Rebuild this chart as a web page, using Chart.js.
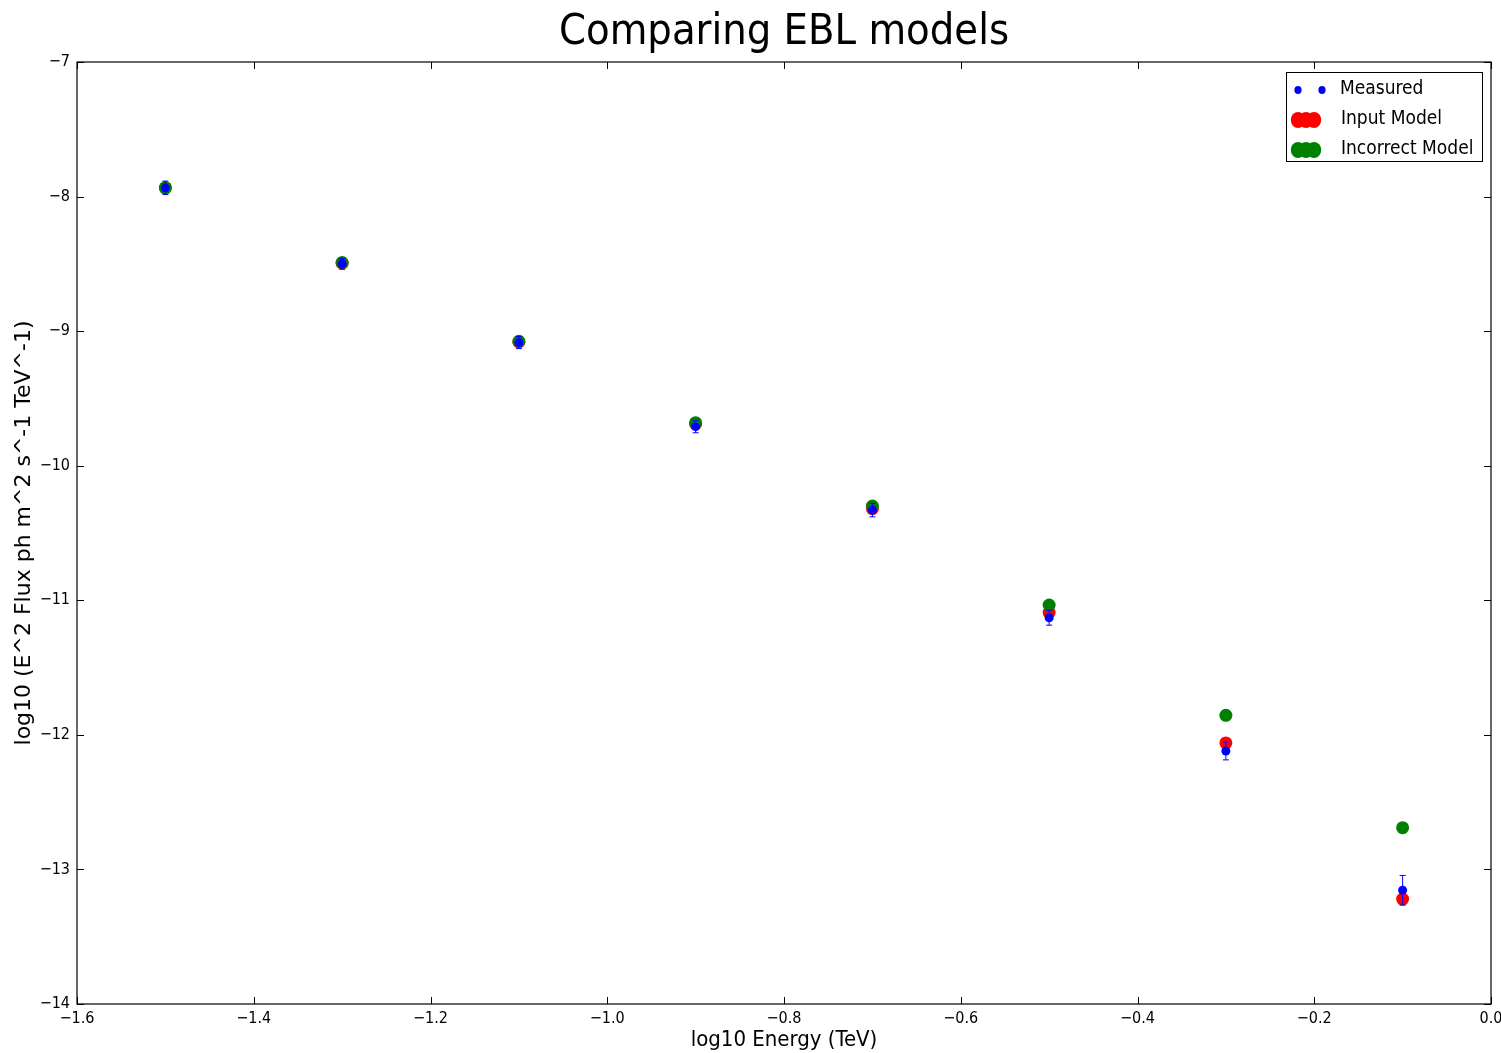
<!DOCTYPE html>
<html>
<head>
<meta charset="utf-8">
<title>Comparing EBL models</title>
<script src="https://cdn.jsdelivr.net/npm/chart.js@4.4.1/dist/chart.umd.min.js"></script>
<style>
  html, body { margin: 0; padding: 0; background: #fff; }
  #wrap { width: 1501px; height: 1053px; }
</style>
</head>
<body>
<div id="wrap"><canvas id="chart" width="1501" height="1053"></canvas></div>
<script>
// ---- data ----
const energy = [-1.5, -1.3, -1.1, -0.9, -0.7, -0.5, -0.3, -0.1];        // log10 Energy (TeV)
const measured = [-7.935, -8.50, -9.085, -9.71, -10.33, -11.13, -12.12, -13.155];
const measuredErr = [0.05, 0.04, 0.045, 0.045, 0.05, 0.055, 0.066, 0.11];
const inputModel = [-7.935, -8.495, -9.08, -9.69, -10.32, -11.09, -12.06, -13.22];
const incorrectModel = [-7.935, -8.49, -9.075, -9.68, -10.30, -11.035, -11.855, -12.69];

const xTicks = [-1.6, -1.4, -1.2, -1.0, -0.8, -0.6, -0.4, -0.2, 0.0];
const yTicks = [-7, -8, -9, -10, -11, -12, -13, -14];

const condensed = '"DejaVu Sans Condensed", "Liberation Sans Narrow", "DejaVu Sans", sans-serif';
const plain = '"DejaVu Sans", sans-serif';

function pts(ys) {
    return energy.map((x, i) => ({ x: x, y: ys[i] }));
}

// matplotlib style minus sign
function fmt(v, digits) {
    const s = digits ? v.toFixed(digits) : String(Math.round(v));
    return s.replace("-", "\u2212");
}

// title centred over the axes, like matplotlib
const axesTitle = {
    id: "axesTitle",
    afterDraw(chart) {
        const { ctx, chartArea: a } = chart;
        ctx.save();
        ctx.font = "43px " + condensed;
        ctx.fillStyle = "#000";
        ctx.textAlign = "center";
        ctx.textBaseline = "alphabetic";
        ctx.fillText("Comparing EBL models", (a.left + a.right) / 2, 44);
        ctx.restore();
    }
};

// error bars for the measured points
const errorBars = {
    id: "errorBars",
    afterDatasetsDraw(chart) {
        const { ctx, scales: { x, y } } = chart;
        ctx.save();
        ctx.strokeStyle = "#0000ff";
        ctx.lineWidth = 1;
        for (let i = 0; i < energy.length; i++) {
            const px = x.getPixelForValue(energy[i]);
            const top = y.getPixelForValue(measured[i] + measuredErr[i]);
            const bot = y.getPixelForValue(measured[i] - measuredErr[i]);
            ctx.beginPath();
            ctx.moveTo(px, top); ctx.lineTo(px, bot);
            ctx.moveTo(px - 3, top); ctx.lineTo(px + 3, top);
            ctx.moveTo(px - 3, bot); ctx.lineTo(px + 3, bot);
            ctx.stroke();
        }
        ctx.restore();
    }
};

// frame + inward ticks on all four sides
const frame = {
    id: "frame",
    afterDraw(chart) {
        const { ctx, chartArea: a, scales: { x, y } } = chart;
        ctx.save();
        ctx.strokeStyle = "#000";
        ctx.lineWidth = 1.2;
        ctx.strokeRect(a.left, a.top, a.right - a.left, a.bottom - a.top);
        ctx.lineWidth = 1;
        ctx.beginPath();
        xTicks.forEach(v => {
            const px = Math.round(x.getPixelForValue(v)) + 0.5;
            ctx.moveTo(px, a.bottom); ctx.lineTo(px, a.bottom - 7);
            ctx.moveTo(px, a.top); ctx.lineTo(px, a.top + 7);
        });
        yTicks.forEach(v => {
            const py = Math.round(y.getPixelForValue(v)) + 0.5;
            ctx.moveTo(a.left, py); ctx.lineTo(a.left + 7, py);
            ctx.moveTo(a.right, py); ctx.lineTo(a.right - 7, py);
        });
        ctx.stroke();
        ctx.restore();
    }
};

// matplotlib-like legend box (numpoints markers)
const mplLegend = {
    id: "mplLegend",
    afterDraw(chart) {
        const { ctx, chartArea: a } = chart;
        const bx = a.right - 205, by = a.top + 10, bw = 196, bh = 89;
        ctx.save();
        ctx.fillStyle = "#fff";
        ctx.fillRect(bx, by, bw, bh);
        ctx.strokeStyle = "#000";
        ctx.lineWidth = 1;
        ctx.strokeRect(bx + 0.5, by + 0.5, bw, bh);
        const rows = [
            { label: "Measured", color: "#0000ff", r: 4, xs: [12, 36], tx: 54 },
            { label: "Input Model", color: "#ff0000", r: 8, xs: [12, 20, 28], tx: 55 },
            { label: "Incorrect Model", color: "#008000", r: 8, xs: [12, 20, 28], tx: 55 }
        ];
        ctx.font = "19px " + condensed;
        ctx.textBaseline = "middle";
        rows.forEach((r, i) => {
            const cy = by + 16 + i * 30;
            ctx.fillStyle = r.color;
            r.xs.forEach(dx => {
                ctx.beginPath();
                ctx.ellipse(bx + dx, cy + 2, r.r * 0.9, r.r, 0, 0, Math.PI * 2);
                ctx.fill();
            });
            ctx.fillStyle = "#000";
            ctx.fillText(r.label, bx + r.tx, cy + 1);
        });
        ctx.restore();
    }
};

new Chart(document.getElementById("chart"), {
    type: "scatter",
    data: {
        datasets: [
            {
                label: "Measured",
                data: pts(measured),
                backgroundColor: "#0000ff",
                borderColor: "#0000ff",
                pointRadius: 4.5,
                pointBorderWidth: 0,
                order: 0
            },
            {
                label: "Incorrect Model",
                data: pts(incorrectModel),
                backgroundColor: "#008000",
                borderColor: "#008000",
                pointRadius: 6.5,
                pointBorderWidth: 0,
                order: 1
            },
            {
                label: "Input Model",
                data: pts(inputModel),
                backgroundColor: "#ff0000",
                borderColor: "#ff0000",
                pointRadius: 6.5,
                pointBorderWidth: 0,
                order: 2
            }
        ]
    },
    options: {
        responsive: false,
        animation: false,
        layout: { padding: { left: 0, right: 10, top: 62, bottom: 0 } },
        plugins: {
            legend: { display: false },
            tooltip: { enabled: false },
            title: { display: false }
        },
        scales: {
            x: {
                type: "linear",
                min: -1.6,
                max: 0.0,
                afterBuildTicks(scale) { scale.ticks = xTicks.map(v => ({ value: v })); },
                afterFit(scale) {
                    scale.height = 49;
                    scale.paddingLeft = 0;
                    scale.paddingRight = 0;
                },
                grid: { display: false, drawTicks: false },
                border: { display: false },
                ticks: {
                    color: "#000",
                    padding: 5,
                    font: { family: condensed, size: 16 },
                    callback: v => fmt(v, 1)
                },
                title: {
                    display: true,
                    text: "log10 Energy (TeV)",
                    color: "#000",
                    font: { family: condensed, size: 22, lineHeight: 1.2 },
                    padding: { top: 0, bottom: 0 }
                }
            },
            y: {
                type: "linear",
                min: -14,
                max: -7,
                afterBuildTicks(scale) { scale.ticks = yTicks.map(v => ({ value: v })); },
                afterFit(scale) {
                    scale.width = 77;
                    scale.paddingTop = 0;
                    scale.paddingBottom = 0;
                },
                grid: { display: false, drawTicks: false },
                border: { display: false },
                ticks: {
                    color: "#000",
                    padding: 7,
                    font: { family: condensed, size: 16 },
                    callback: v => fmt(v)
                },
                title: {
                    display: true,
                    text: "log10 (E^2 Flux ph m^2 s^-1 TeV^-1)",
                    color: "#000",
                    font: { family: plain, size: 22, lineHeight: 1.2 },
                    padding: { top: 11, bottom: 0 }
                }
            }
        }
    },
    plugins: [errorBars, frame, mplLegend, axesTitle]
});
</script>
</body>
</html>
